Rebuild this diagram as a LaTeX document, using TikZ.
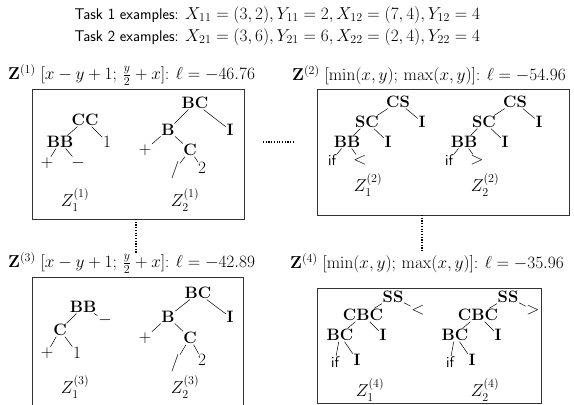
\documentclass[tikz,border=0pt]{standalone}
\usepackage{amsmath}
\begin{document}
\begin{tikzpicture}[x=1pt,y=-1pt,
  every node/.style={font=\fontsize{16.5}{19}\selectfont},
  nt/.style={font=\fontsize{16.5}{19}\selectfont\bfseries, inner sep=0.6pt},
  lf/.style={inner sep=0.6pt},
  sf/.style={font=\fontsize{15.5}{18}\selectfont\sffamily, inner sep=0.6pt},
  hdr/.style={anchor=west, font=\fontsize{15.5}{18}\selectfont\sffamily},
  ed/.style={line width=0.5pt},
  boxline/.style={line width=0.7pt, draw=black!80},
  dotline/.style={line width=1.4pt, dash pattern=on 1.2pt off 1.5pt}]
\useasboundingbox (0,0) rectangle (574,405);
% header
\node[hdr] (t1) at (71,15) {Task 1 examples: {\fontsize{16.5}{18}\selectfont$X_{11}=(3,2),Y_{11}=2,X_{12}=(7,4),Y_{12}=4$}};
\node[hdr] (t2) at (71,37) {Task 2 examples: {\fontsize{16.5}{18}\selectfont$X_{21}=(3,6),Y_{21}=6,X_{22}=(2,4),Y_{22}=4$}};
% boxes
\node[boxline, draw, rectangle, minimum width=212, minimum height=130, anchor=north west, inner sep=0] (b1) at (32,89) {};
\node[boxline, draw, rectangle, minimum width=252, minimum height=126, anchor=north west, inner sep=0] (b2) at (317,89) {};
\node[boxline, draw, rectangle, minimum width=224, minimum height=115, anchor=north west, inner sep=0] (b4) at (317,288) {};
\coordinate (b3tl) at (32,277);
\coordinate (b3tr) at (243,277);
\draw[boxline] (32,406) -- (b3tl) -- (b3tr) -- (243,406);
% labels
\node[anchor=west, inner sep=0] (l1) at (8,75) {$\mathbf{Z}^{(1)}$ $[x-y+1;\,\frac{y}{2}+x]$: $\ell=-46.76$};
\node[anchor=west, inner sep=0] (l2) at (292,75) {$\mathbf{Z}^{(2)}$ $[\min(x,y);\,\max(x,y)]$: $\ell=-54.96$};
\node[anchor=west, inner sep=0] (l3) at (8,263) {$\mathbf{Z}^{(3)}$ $[x-y+1;\,\frac{y}{2}+x]$: $\ell=-42.89$};
\node[anchor=west, inner sep=0] (l4) at (290,263) {$\mathbf{Z}^{(4)}$ $[\min(x,y);\,\max(x,y)]$: $\ell=-35.96$};
% dotted connectors
\coordinate (h1) at (263,142);
\coordinate (h2) at (293,142);
\draw[dotline] (h1) -- (h2);
\coordinate (v1a) at (136,219);
\coordinate (v1b) at (136,254);
\draw[dotline] (v1a) -- (v1b);
\coordinate (v2a) at (422,215);
\coordinate (v2b) at (422,252);
\draw[dotline] (v2a) -- (v2b);
% ---- box 1
\node[nt] (a1) at (85,120) {CC};
\node[nt] (a2) at (60,142) {BB};
\node[lf] (a3) at (107,142) {$1$};
\node[lf] (a4) at (47,163) {$+$};
\node[lf] (a5) at (78,163) {$-$};
\draw[ed] (a1) -- (a2); \draw[ed] (a1) -- (a3);
\draw[ed] (a2) -- (a4); \draw[ed] (a2) -- (a5);
\node[lf] (az1) at (75,200) {$Z_1^{(1)}$};
\node[nt] (c1) at (195,103) {BC};
\node[nt] (c2) at (168,130) {B};
\node[nt] (c3) at (230,130) {I};
\node[lf] (c4) at (145,150) {$+$};
\node[nt] (c5) at (190,150) {C};
\node[lf] (c6) at (175,170) {$/$};
\node[lf] (c7) at (202,168) {$2$};
\draw[ed] (c1) -- (c2); \draw[ed] (c1) -- (c3);
\draw[ed] (c2) -- (c4); \draw[ed] (c2) -- (c5);
\draw[ed] (c5) -- (c6); \draw[ed] (c5) -- (c7);
\node[lf] (cz1) at (185,200) {$Z_2^{(1)}$};
% ---- box 2
\foreach \p/\dx/\cmp/\k in {d/0/</1, e/117/>/2} {
  \node[nt] (\p1) at (398+\dx,102) {CS};
  \node[nt] (\p2) at (367+\dx,122) {SC};
  \node[nt] (\p3) at (422+\dx,122) {I};
  \node[nt] (\p4) at (347+\dx,142) {BB};
  \node[nt] (\p5) at (388+\dx,142) {I};
  \node[sf] (\p6) at (332+\dx,160) {if};
  \node[lf] (\p7) at (360+\dx,160) {$\cmp$};
  \draw[ed] (\p1) -- (\p2); \draw[ed] (\p1) -- (\p3);
  \draw[ed] (\p2) -- (\p4); \draw[ed] (\p2) -- (\p5);
  \draw[ed] (\p4) -- (\p6); \draw[ed] (\p4) -- (\p7);
  \node[lf] (\p z) at (368+\dx,185) {$Z_{\k}^{(2)}$};
}
% ---- box 3
\node[nt] (f1) at (83,307) {BB};
\node[nt] (f2) at (60,330) {C};
\node[lf] (f3) at (105,320) {$-$};
\node[lf] (f4) at (47,353) {$+$};
\node[lf] (f5) at (77,353) {$1$};
\draw[ed] (f1) -- (f2); \draw[ed] (f1) -- (f3);
\draw[ed] (f2) -- (f4); \draw[ed] (f2) -- (f5);
\node[lf] (fz) at (75,387) {$Z_1^{(3)}$};
\node[nt] (g1) at (198,293) {BC};
\node[nt] (g2) at (168,317) {B};
\node[nt] (g3) at (230,317) {I};
\node[lf] (g4) at (145,338) {$+$};
\node[nt] (g5) at (190,338) {C};
\node[lf] (g6) at (175,363) {$/$};
\node[lf] (g7) at (202,360) {$2$};
\draw[ed] (g1) -- (g2); \draw[ed] (g1) -- (g3);
\draw[ed] (g2) -- (g4); \draw[ed] (g2) -- (g5);
\draw[ed] (g5) -- (g6); \draw[ed] (g5) -- (g7);
\node[lf] (gz) at (185,387) {$Z_2^{(3)}$};
% ---- box 4
\foreach \p/\dx/\cmp/\k in {h/0/</1, m/115/>/2} {
  \node[nt] (\p1) at (393+\dx,297) {SS};
  \node[nt] (\p2) at (363+\dx,315) {CBC};
  \node[lf] (\p3) at (418+\dx,310) {$\cmp$};
  \node[nt] (\p4) at (340+\dx,335) {BC};
  \node[nt] (\p5) at (383+\dx,335) {I};
  \node[sf] (\p6) at (335+\dx,362) {if};
  \node[nt] (\p7) at (357+\dx,360) {I};
  \draw[ed] (\p1) -- (\p2); \draw[ed] (\p1) -- (\p3);
  \draw[ed] (\p2) -- (\p4); \draw[ed] (\p2) -- (\p5);
  \draw[ed] (\p4) -- (\p6); \draw[ed] (\p4) -- (\p7);
  \node[lf] (\p z) at (370+\dx,390) {$Z_{\k}^{(4)}$};
}
\end{tikzpicture}
\end{document}
